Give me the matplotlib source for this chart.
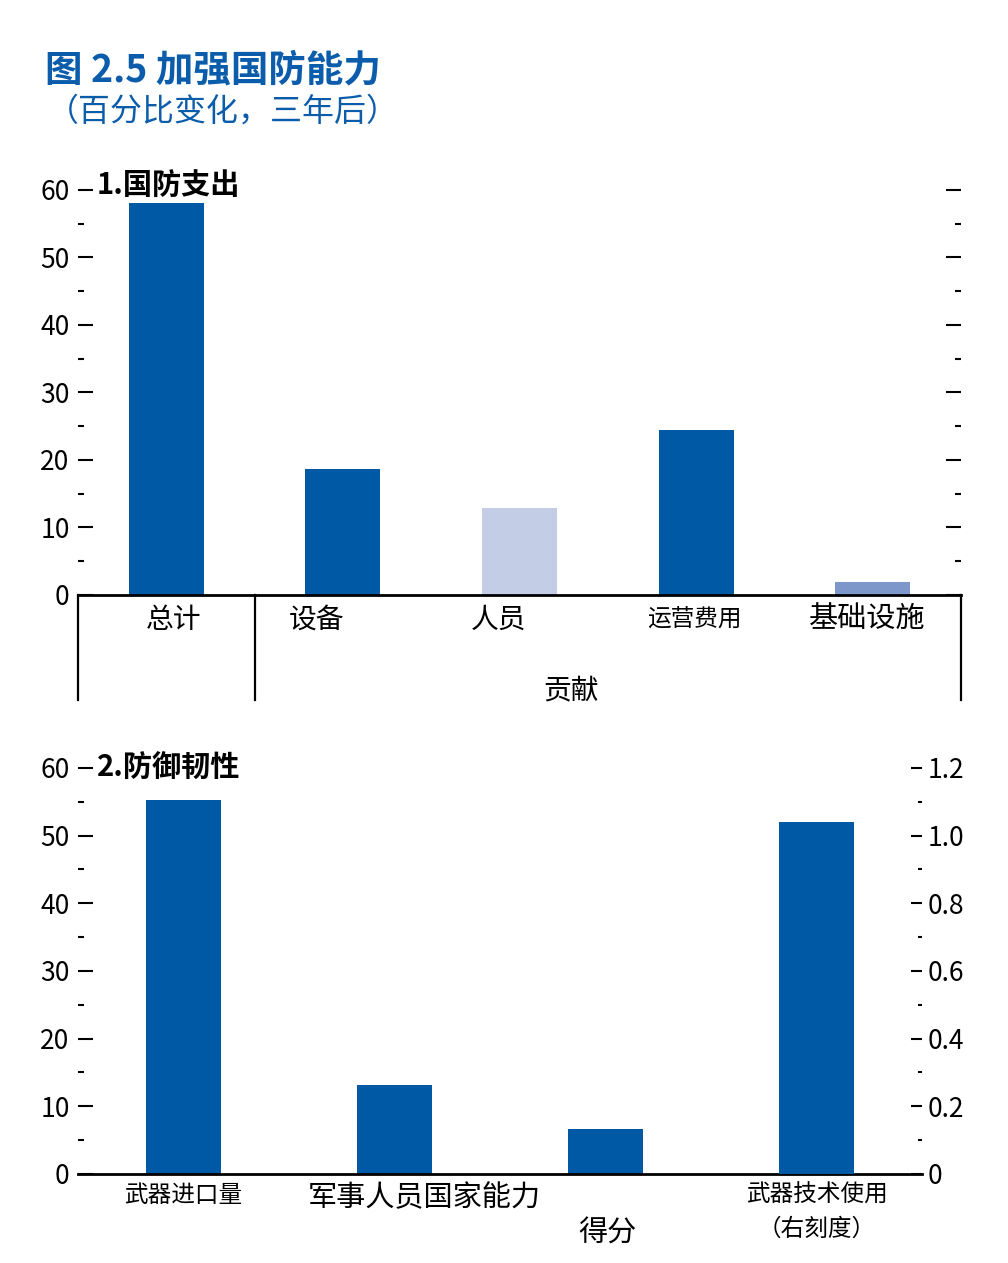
import numpy as np
import matplotlib
matplotlib.use('Agg')
import matplotlib.pyplot as plt
from matplotlib.ticker import MultipleLocator

plt.rcParams['font.family'] = ['Noto Sans CJK SC', 'DejaVu Sans']

BLUE = '#0059a4'
LIGHT = '#c3cde6'
MID = '#7e97ca'
TITLE_BLUE = '#0b5dab'

# Panel 1 data
cats1 = ['总计', '设备', '人员', '运营费用', '基础设施']
vals1 = [58.0, 18.7, 12.9, 24.4, 1.9]
cols1 = [BLUE, BLUE, LIGHT, BLUE, MID]
sizes1 = [20, 20, 20, 17, 21]
label_x1 = [0.04, 0.85, 1.88, 2.99, 3.97]

# Panel 2 data
cats2 = ['武器进口量', '军事人员国家能力', '得分', '武器技术使用']
vals2_left = [55.3, 13.1, 6.6]
vals2_right = [1.04]

fig = plt.figure(figsize=(10.08, 12.63), dpi=100)

fig.text(0.045, 0.9446, '图 2.5 加强国防能力', fontsize=27, fontweight='bold',
         color=TITLE_BLUE, va='center', ha='left')
fig.text(0.046, 0.912, '（百分比变化，三年后）', fontsize=23, fontweight='light',
         color=TITLE_BLUE, va='center', ha='left')


def style_ticks(ax):
    ax.yaxis.set_minor_locator(MultipleLocator(5))
    ax.tick_params(axis='y', which='major', direction='in', length=11, width=1.5,
                   labelsize=19, pad=6, colors='black')
    ax.tick_params(axis='y', which='minor', direction='in', length=4, width=1.5)
    ax.tick_params(axis='x', length=0, labelbottom=False)


# ---------- Panel 1 ----------
ax1 = fig.add_axes([0.0774, 0.5289, 0.876, 0.3207])
x1 = np.arange(len(cats1))
ax1.bar(x1, vals1, width=0.425, color=cols1)
ax1.set_xlim(-0.5, len(cats1) - 0.5)
ax1.set_ylim(0, 60)
ax1.set_yticks(np.arange(0, 61, 10))
ax1.set_yticklabels([str(v) for v in range(0, 61, 10)])
for s in ['left', 'right', 'top']:
    ax1.spines[s].set_visible(False)
ax1.spines['bottom'].set_linewidth(2)
ax1.yaxis.set_ticks_position('both')
style_ticks(ax1)

for lx, c, fs in zip(label_x1, cats1, sizes1):
    ax1.text(lx, -0.062, c, transform=ax1.get_xaxis_transform(), ha='center',
             va='center', fontsize=fs, fontweight='light')
ax1.text(2.29, -0.235, '贡献', transform=ax1.get_xaxis_transform(), ha='center',
         va='center', fontsize=20, fontweight='light')
for xv in [-0.5, 0.5, len(cats1) - 0.5]:
    ax1.plot([xv, xv], [0, -0.259], transform=ax1.get_xaxis_transform(),
             color='black', lw=1.6, clip_on=False)
ax1.text(0.0215, 1.01, '1.国防支出', transform=ax1.transAxes, ha='left', va='center',
         fontsize=21, fontweight='bold')

# ---------- Panel 2 ----------
ax2 = fig.add_axes([0.0774, 0.0705, 0.8373, 0.3215])
x2 = np.arange(len(cats2))
ax2.bar(x2[:3], vals2_left, width=0.355, color=BLUE)
ax2.set_xlim(-0.5, len(cats2) - 0.5)
ax2.set_ylim(0, 60)
ax2.set_yticks(np.arange(0, 61, 10))
ax2.set_yticklabels([str(v) for v in range(0, 61, 10)])
for s in ['left', 'right', 'top']:
    ax2.spines[s].set_visible(False)
ax2.spines['bottom'].set_linewidth(2)
style_ticks(ax2)

ax2r = ax2.twinx()
ax2r.bar(x2[3:], vals2_right, width=0.355, color=BLUE)
ax2r.set_ylim(0, 1.2)
rt = np.round(np.arange(0, 1.21, 0.2), 1)
ax2r.set_yticks(rt)
ax2r.set_yticklabels(['0'] + [f'{v:.1f}' for v in rt[1:]])
ax2r.yaxis.set_minor_locator(MultipleLocator(0.1))
for s in ['left', 'right', 'top', 'bottom']:
    ax2r.spines[s].set_visible(False)
ax2r.tick_params(axis='y', which='major', direction='in', length=8, width=1.5,
                 labelsize=19, pad=4)
ax2r.tick_params(axis='y', which='minor', direction='in', length=3, width=1.5)

tr2 = ax2.get_xaxis_transform()
ax2.text(0, -0.052, '武器进口量', transform=tr2, ha='center', va='center',
         fontsize=17, fontweight='light')
ax2.text(1.14, -0.059, '军事人员国家能力', transform=tr2, ha='center', va='center',
         fontsize=21, fontweight='light')
ax2.text(2.01, -0.148, '得分', transform=tr2, ha='center', va='center',
         fontsize=21, fontweight='light')
ax2.text(3.0, -0.052, '武器技术使用', transform=tr2, ha='center', va='center',
         fontsize=17, fontweight='light')
ax2.text(3.0, -0.135, '（右刻度）', transform=tr2, ha='center', va='center',
         fontsize=17, fontweight='light')
ax2.text(0.0226, 1.0, '2.防御韧性', transform=ax2.transAxes, ha='left', va='center',
         fontsize=21, fontweight='bold')

fig.savefig('out.png', dpi=100)
